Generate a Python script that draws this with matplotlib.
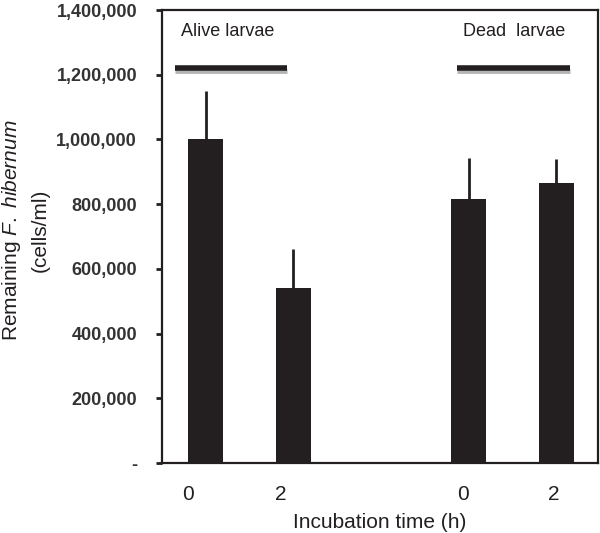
import matplotlib
matplotlib.use('Agg')
import matplotlib.pyplot as plt

# === DATA ===
bar_pos = [0, 1, 3, 4]
tick_labels = ['0', '2', '0', '2']
cells = [1000000, 540000, 815000, 865000]
err_up = [150000, 120000, 128000, 75000]

group_names = ['Alive larvae', 'Dead  larvae']
group_spans = [(-0.35, 0.93), (2.87, 4.16)]
group_level = 1222000

yticks = [0, 200000, 400000, 600000, 800000, 1000000, 1200000, 1400000]
ytick_labels = ['-', '200,000', '400,000', '600,000', '800,000',
                '1,000,000', '1,200,000', '1,400,000']

# === STYLE ===
ink = '#231f20'
plt.rcParams['font.family'] = ['Liberation Sans', 'DejaVu Sans']
plt.rcParams['mathtext.fontset'] = 'custom'
plt.rcParams['mathtext.rm'] = 'Liberation Sans'
plt.rcParams['mathtext.it'] = 'Liberation Sans:italic'

fig = plt.figure(figsize=(6, 5.33), dpi=100)
ax = fig.add_axes([0.27, 0.1313, 0.7267, 0.8499])

ax.bar(bar_pos, cells, width=0.4, color=ink, zorder=2)
ax.errorbar(bar_pos, cells, yerr=[[0] * len(cells), err_up], fmt='none',
            ecolor=ink, elinewidth=2, capsize=0, zorder=1)

# group brackets with grey shadow
for name, (x0, x1) in zip(group_names, group_spans):
    ax.plot([x0, x1], [group_level - 11000] * 2, color='#b5b5b5', lw=3.5,
            solid_capstyle='butt', zorder=3)
    ax.plot([x0, x1], [group_level] * 2, color=ink, lw=4,
            solid_capstyle='butt', zorder=4)
    ax.text(x0 + 0.07, 1335000, name, fontsize=13, color=ink,
            ha='left', va='center')

ax.set_xlim(-0.497, 4.474)
ax.set_ylim(0, 1400000)
ax.set_yticks(yticks)
ax.set_yticklabels(ytick_labels, fontsize=13, fontweight='bold', color='#333333')
ax.set_xticks([b + d for b, d in zip(bar_pos, [-0.2, -0.14, -0.06, -0.03])])
ax.set_xticklabels(tick_labels, fontsize=15, color=ink)
ax.tick_params(axis='y', direction='out', length=4, width=2, color=ink, pad=14)
ax.tick_params(axis='x', length=0, pad=16)

for spine in ax.spines.values():
    spine.set_color(ink)
    spine.set_linewidth(1.6)

ax.set_xlabel('Incubation time (h)', fontsize=15, color=ink, labelpad=6)

fig.text(12 / 600, 0.568, r'Remaining $\mathit{F.\ hibernum}$', rotation=90,
         fontsize=15, color=ink, ha='center', va='center')
fig.text(40 / 600, 0.568, '(cells/ml)', rotation=90,
         fontsize=15, color=ink, ha='center', va='center')

fig.savefig('out.png', dpi=100)
